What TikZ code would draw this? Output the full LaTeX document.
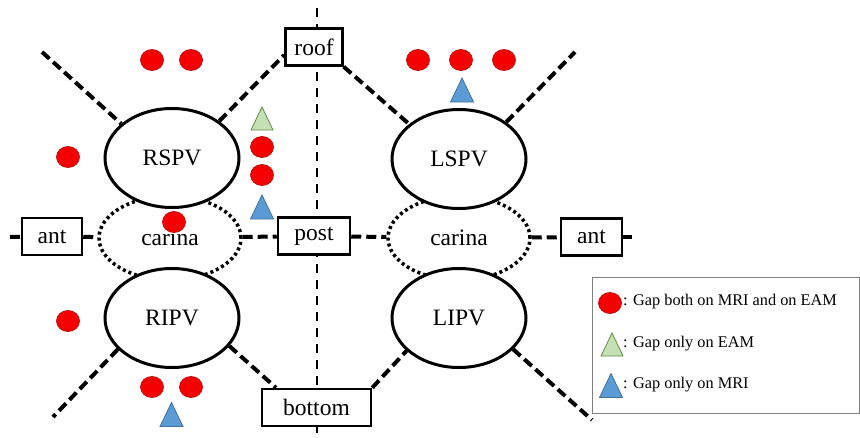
\documentclass[tikz,border=0pt]{standalone}
\usepackage{fontspec}
\setmainfont{Liberation Serif}
\usetikzlibrary{shapes.geometric}
\definecolor{gapred}{RGB}{245,0,0}
\definecolor{gapredline}{RGB}{190,20,20}
\definecolor{eamgreen}{RGB}{197,224,180}
\definecolor{eamgreenline}{RGB}{100,140,70}
\definecolor{mriblue}{RGB}{91,155,213}
\definecolor{mriblueline}{RGB}{65,113,156}
\newcommand{\labelfont}{\fontsize{23.5}{28}\selectfont}
\newcommand{\keyfont}{\fontsize{16.3}{19}\selectfont}
\tikzset{
  vein/.style={draw, ellipse, line width=3pt, fill=white, minimum width=134pt, minimum height=99pt, inner sep=0pt, font=\labelfont},
  carinaring/.style={draw, ellipse, line width=3.5pt, dash pattern=on 3pt off 3pt, minimum width=142pt, minimum height=84pt, inner sep=0pt, font=\labelfont},
  landmark/.style={draw, rectangle, line width=2.5pt, fill=white, minimum height=37pt, inner sep=0pt, font=\labelfont},
  lesionline/.style={line width=4pt, dash pattern=on 10pt off 5pt},
  midline/.style={line width=2.5pt, dash pattern=on 9pt off 7pt},
  bothdot/.style={ellipse, draw=gapredline, fill=gapred, line width=0.8pt, minimum width=23pt, minimum height=21pt, inner sep=0pt},
  eamtri/.style={draw=eamgreenline, fill=eamgreen, line width=0.8pt, line join=miter},
  mritri/.style={draw=mriblueline, fill=mriblue, line width=0.8pt, line join=miter},
  legendframe/.style={draw=gray, line width=1pt},
  keytext/.style={anchor=west, inner sep=0pt, font=\keyfont}
}
\newcommand{\GapBoth}[2]{%
  % #1 x, #2 y
  \node[bothdot] at (#1,#2) {};
}
\newcommand{\GapEAM}[2]{%
  % #1 x, #2 y (centre of triangle)
  \draw[eamtri] (#1,#2) ++(-11,11.5) -- ++(11,-23) -- ++(11,23) -- cycle;
}
\newcommand{\GapMRI}[2]{%
  % #1 x, #2 y (centre of triangle)
  \draw[mritri] (#1,#2) ++(-11.5,12) -- ++(11.5,-24) -- ++(11.5,24) -- cycle;
}

\begin{document}
\begin{tikzpicture}[x=1pt, y=-1pt]
  \useasboundingbox (0,0) rectangle (860,437);

  % =======================
  % Midline (roof - post - bottom)
  % =======================
  \coordinate (vtop) at (317,8);
  \coordinate (vbot) at (317,437);
  \draw[midline] (vtop) -- (vbot);

  % =======================
  % Carina rings and veins
  % =======================
  \node[carinaring] (carinaL) at (170,238) {};
  \node[carinaring] (carinaR) at (459,238) {};
  \node[vein] (rspv) at (172,158) {RSPV};
  \node[vein] (lspv) at (459,159) {LSPV};
  \node[vein] (ripv) at (172,318) {RIPV};
  \node[vein] (lipv) at (459,318) {LIPV};
  \node[font=\labelfont] at (carinaL) {carina};
  \node[font=\labelfont] at (carinaR) {carina};

  % =======================
  % Landmark boxes
  % =======================
  \node[landmark, minimum width=57pt] (roof) at (314,47) {roof};
  \node[landmark, minimum width=72pt] (post) at (314,236) {post};
  \node[landmark, minimum width=109pt] (bottom) at (316.5,407.5) {bottom};
  \node[landmark, minimum width=60pt] (antL) at (52,236.5) {ant};
  \node[landmark, minimum width=61pt] (antR) at (591.5,237) {ant};

  % =======================
  % Lesion lines
  % =======================
  \coordinate (ulend) at (42,52);
  \coordinate (urend) at (575,52);
  \coordinate (llend) at (53,417);
  \coordinate (lrend) at (592,420);
  \coordinate (hleft) at (10,237);
  \coordinate (hright) at (632,237);
  \draw[lesionline] (ulend) -- (rspv.146);
  \draw[lesionline] (rspv.38) -- (roof.195);
  \draw[lesionline] (roof.south east) -- (lspv.145);
  \draw[lesionline] (lspv.38) -- (urend);
  \draw[lesionline] (ripv.210) -- (llend);
  \draw[lesionline] (ripv.334) -- (bottom.154);
  \draw[lesionline] (bottom.north east) -- (lipv.212);
  \draw[lesionline] (lipv.330) -- (lrend);
  \draw[lesionline] (hleft) -- (antL);
  \draw[lesionline] (antL) -- (carinaL);
  \draw[lesionline] (carinaL) -- (post);
  \draw[lesionline] (post) -- (carinaR);
  \draw[lesionline] (carinaR) -- (antR);
  \draw[lesionline] (antR) -- (hright);

  % =======================
  % Gaps
  % =======================
  \GapBoth{152}{60}
  \GapBoth{191}{60}
  \GapBoth{68}{157}
  \GapBoth{262}{147}
  \GapBoth{262}{175}
  \GapBoth{174}{222}
  \GapBoth{418}{60}
  \GapBoth{461}{60}
  \GapBoth{504}{60}
  \GapBoth{68}{321}
  \GapBoth{152}{387}
  \GapBoth{191}{387}
  \GapEAM{262}{118.5}
  \GapMRI{262}{207}
  \GapMRI{462}{90}
  \GapMRI{171.5}{414.5}

  % =======================
  % Legend
  % =======================
  \draw[legendframe] (592,277) rectangle (859,413);
  \GapBoth{610}{303}
  \GapEAM{612}{344.5}
  \GapMRI{611}{385.5}
  \node[keytext] (keyboth) at (623,302) {: Gap both on MRI and on EAM};
  \node[keytext] (keyeam) at (623,344) {: Gap only on EAM};
  \node[keytext] (keymri) at (623,385) {: Gap only on MRI};

\end{tikzpicture}
\end{document}
